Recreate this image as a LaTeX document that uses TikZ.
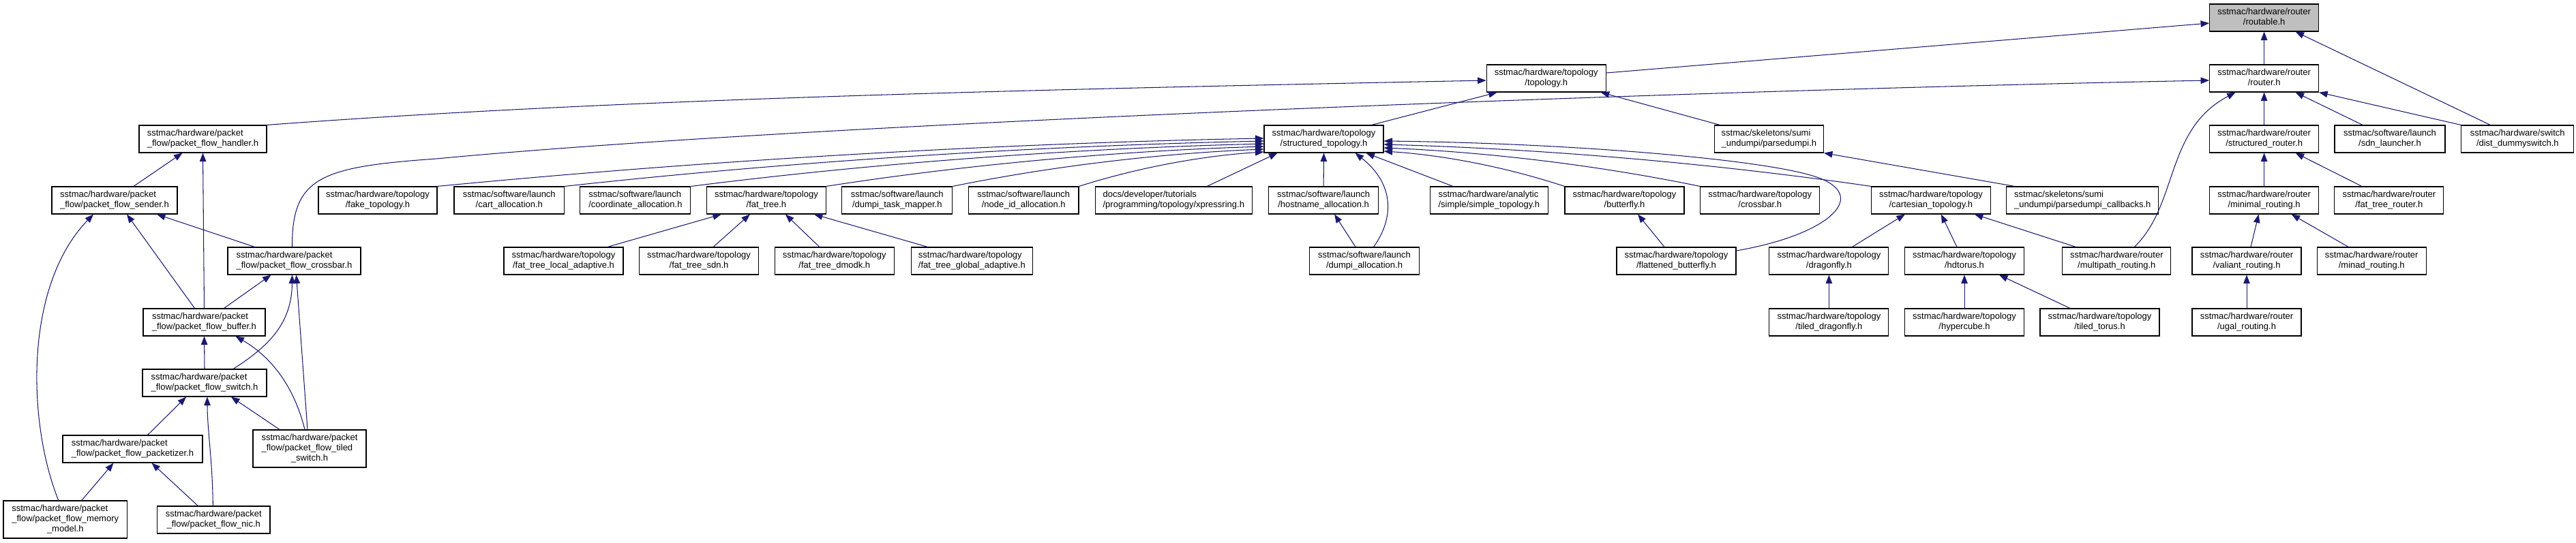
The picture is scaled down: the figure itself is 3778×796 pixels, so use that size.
\documentclass[tikz,border=0pt]{standalone}
\usepackage{fontspec}
\setmainfont{Liberation Sans}
\usetikzlibrary{arrows.meta}
\definecolor{edgecol}{HTML}{191970}
\definecolor{rootfill}{HTML}{BFBFBF}
\newcommand{\lblA}[2]{\begin{tabular}{@{}l@{}}#1\\\multicolumn{1}{@{}c@{}}{#2}\end{tabular}}
\newcommand{\lblB}[3]{\begin{tabular}{@{}l@{}}#1\\#2\\\multicolumn{1}{@{}c@{}}{#3}\end{tabular}}
\newcommand{\HT}{sstmac/hardware/topology}
\newcommand{\HR}{sstmac/hardware/router}
\newcommand{\HP}{sstmac/hardware/packet}
\newcommand{\SL}{sstmac/software/launch}
\begin{document}
\begin{tikzpicture}[x=1pt,y=-1pt,
  box/.style={draw=black, line width=1.1pt, fill=white, inner sep=0pt,
    minimum height=40pt, font=\fontsize{13pt}{15pt}\selectfont},
  dep/.style={draw=edgecol, line width=1.05pt, -{Triangle[length=12.5pt,width=9.5pt]}}]
\useasboundingbox (0,0) rectangle (3778,796);
% row 1
\node[box, fill=rootfill, minimum width=160pt] (routable) at (3320.6,26) {\lblA{\HR}{/routable.h}};
% row 2
\node[box, minimum width=175pt] (topology) at (2267.7,115) {\lblA{\HT}{/topology.h}};
\node[box, minimum width=160pt] (router) at (3320.6,115) {\lblA{\HR}{/router.h}};
% row 3
\node[box, minimum width=187pt] (handler) at (297.5,204) {\lblA{\HP}{\_flow/packet\_flow\_handler.h}};
\node[box, minimum width=175pt] (st) at (1941.5,204) {\lblA{\HT}{/structured\_topology.h}};
\node[box, minimum width=160pt] (parsedumpi) at (2594.4,204) {\lblA{sstmac/skeletons/sumi}{\_undumpi/parsedumpi.h}};
\node[box, minimum width=160pt] (sr) at (3320.6,204) {\lblA{\HR}{/structured\_router.h}};
\node[box, minimum width=162pt] (sdn) at (3505,204) {\lblA{\SL}{/sdn\_launcher.h}};
\node[box, minimum width=165pt] (dist) at (3692.3,204) {\lblA{sstmac/hardware/switch}{/dist\_dummyswitch.h}};
% row 4
\node[box, minimum width=184pt] (sender) at (168,294) {\lblA{\HP}{\_flow/packet\_flow\_sender.h}};
\node[box, minimum width=174pt] (fake) at (554,294) {\lblA{\HT}{/fake\_topology.h}};
\node[box, minimum width=161.6pt] (cart) at (746.8,294) {\lblA{\SL}{/cart\_allocation.h}};
\node[box, minimum width=162pt] (coord) at (931.9,294) {\lblA{\SL}{/coordinate\_allocation.h}};
\node[box, minimum width=174.7pt] (fattree) at (1123.9,294) {\lblA{\HT}{/fat\_tree.h}};
\node[box, minimum width=161.8pt] (dtm) at (1315.8,294) {\lblA{\SL}{/dumpi\_task\_mapper.h}};
\node[box, minimum width=161.6pt] (nodeid) at (1501.2,294) {\lblA{\SL}{/node\_id\_allocation.h}};
\node[box, minimum width=229.5pt] (xpress) at (1721.3,294) {\lblA{docs/developer/tutorials}{/programming/topology/xpressring.h}};
\node[box, minimum width=161.4pt] (hostname) at (1941.1,294) {\lblA{\SL}{/hostname\_allocation.h}};
\node[box, minimum width=173pt] (simple) at (2183.9,294) {\lblA{sstmac/hardware/analytic}{/simple/simple\_topology.h}};
\node[box, minimum width=175pt] (butterfly) at (2382.5,294) {\lblA{\HT}{/butterfly.h}};
\node[box, minimum width=175pt] (xbar) at (2581.2,294) {\lblA{\HT}{/crossbar.h}};
\node[box, minimum width=174.7pt] (carttopo) at (2831.9,294) {\lblA{\HT}{/cartesian\_topology.h}};
\node[box, minimum width=222.8pt] (pdcb) at (3054.3,294) {\lblA{sstmac/skeletons/sumi}{\_undumpi/parsedumpi\_callbacks.h}};
\node[box, minimum width=160pt] (minimal) at (3320.6,294) {\lblA{\HR}{/minimal\_routing.h}};
\node[box, minimum width=160pt] (ftr) at (3503.9,294) {\lblA{\HR}{/fat\_tree\_router.h}};
% row 5
\node[box, minimum width=195pt] (pfxbar) at (431.5,383) {\lblA{\HP}{\_flow/packet\_flow\_crossbar.h}};
\node[box, minimum width=175pt] (fla) at (826.5,383) {\lblA{\HT}{/fat\_tree\_local\_adaptive.h}};
\node[box, minimum width=175pt] (fsdn) at (1025.1,383) {\lblA{\HT}{/fat\_tree\_sdn.h}};
\node[box, minimum width=175pt] (fdmodk) at (1223.8,383) {\lblA{\HT}{/fat\_tree\_dmodk.h}};
\node[box, minimum width=178.7pt] (fga) at (1425.4,383) {\lblA{\HT}{/fat\_tree\_global\_adaptive.h}};
\node[box, minimum width=161.6pt] (dalloc) at (2001,383) {\lblA{\SL}{/dumpi\_allocation.h}};
\node[box, minimum width=175pt] (flat) at (2458.5,383) {\lblA{\HT}{/flattened\_butterfly.h}};
\node[box, minimum width=175pt] (dragonfly) at (2682.4,383) {\lblA{\HT}{/dragonfly.h}};
\node[box, minimum width=175pt] (hdtorus) at (2881,383) {\lblA{\HT}{/hdtorus.h}};
\node[box, minimum width=159pt] (multipath) at (3104.3,383) {\lblA{\HR}{/multipath\_routing.h}};
\node[box, minimum width=160pt] (valiant) at (3295,383) {\lblA{\HR}{/valiant\_routing.h}};
\node[box, minimum width=160pt] (minad) at (3478.2,383) {\lblA{\HR}{/minad\_routing.h}};
% row 6
\node[box, minimum width=179pt] (buffer) at (299.5,473) {\lblA{\HP}{\_flow/packet\_flow\_buffer.h}};
\node[box, minimum width=175pt] (tdf) at (2682.4,473) {\lblA{\HT}{/tiled\_dragonfly.h}};
\node[box, minimum width=175pt] (hypercube) at (2881,473) {\lblA{\HT}{/hypercube.h}};
\node[box, minimum width=175pt] (ttorus) at (3079.5,473) {\lblA{\HT}{/tiled\_torus.h}};
\node[box, minimum width=160pt] (ugal) at (3295,473) {\lblA{\HR}{/ugal\_routing.h}};
% packet flow lower part
\node[box, minimum width=182pt] (switch) at (300,562) {\lblA{\HP}{\_flow/packet\_flow\_switch.h}};
\node[box, minimum width=205pt] (packetizer) at (194.5,659) {\lblA{\HP}{\_flow/packet\_flow\_packetizer.h}};
\node[box, minimum width=166pt, minimum height=55pt] (tswitch) at (454,658.5) {\lblB{\HP}{\_flow/packet\_flow\_tiled}{\_switch.h}};
\node[box, minimum width=181.5pt, minimum height=55pt] (memory) at (95.75,762.5) {\lblB{\HP}{\_flow/packet\_flow\_memory}{\_model.h}};
\node[box, minimum width=165.4pt] (nic) at (313.3,763) {\lblA{\HP}{\_flow/packet\_flow\_nic.h}};
\coordinate (xbk) at (640,233);
\coordinate (flk) at (2670,262);
% router side
\draw[dep] ([yshift=8]topology.east) -- ([yshift=-8]routable.west);
\draw[dep] (router.north) -- (routable.south);
\draw[dep] ([xshift=-40]dist.north) -- ([xshift=46]routable.south);
\draw[dep] (handler.north east) .. controls (891,146) and (1480,132) .. ([yshift=-3]topology.west);
\draw[dep] ([xshift=70]st.north) -- ([xshift=-72]topology.south);
\draw[dep] ([xshift=-72]parsedumpi.north) -- ([xshift=80]topology.south);
\draw[dep] (sr.north) -- (router.south);
\draw[dep] ([xshift=-40]sdn.north) -- ([xshift=46]router.south);
\draw[dep] (dist.north west) -- (router.south east);
\draw[dep] ([xshift=26]multipath.north) .. controls (3195,300) and (3175,190) .. ([xshift=-42]router.south);
\draw[dep] (minimal.north) -- (sr.south);
\draw[dep] ([xshift=-40]ftr.north) -- ([xshift=46]sr.south);
\draw[dep] ([xshift=6]valiant.north) -- ([xshift=-8]minimal.south);
\draw[dep] ([xshift=-34]minad.north) -- ([xshift=40]minimal.south);
\draw[dep] (ugal.north) -- (valiant.south);
% packet flow
\draw[dep] ([xshift=28]sender.north) -- ([xshift=-30]handler.south);
\draw[dep] (buffer.north) -- (handler.south);
\draw[dep] ([xshift=-10]memory.north) .. controls (40,620) and (35,420) .. ([xshift=-31]sender.south);
\draw[dep] ([xshift=-14]buffer.north) -- ([xshift=18]sender.south);
\draw[dep] ([xshift=-58]pfxbar.north) -- ([xshift=62]sender.south);
\draw[dep] ([xshift=29]buffer.north) -- ([xshift=-34]pfxbar.south);
\draw[dep] ([xshift=42]switch.north) .. controls (400,505) and (428,470) .. ([xshift=-3]pfxbar.south);
\draw[dep] ([xshift=-3]tswitch.north) -- ([xshift=3]pfxbar.south);
\draw[dep] (switch.north) -- (buffer.south);
\draw[dep] ([xshift=-7]tswitch.north) .. controls (432,570) and (400,525) .. ([xshift=46]buffer.south);
\draw[dep] ([xshift=22]packetizer.north) -- ([xshift=-27]switch.south);
\draw[dep] ([xshift=-1]nic.north) .. controls (312,680) and (304,630) .. ([xshift=4]switch.south);
\draw[dep] ([xshift=-44]tswitch.north) -- ([xshift=39]switch.south);
\draw[dep] ([xshift=24]memory.north) -- ([xshift=-28]packetizer.south);
\draw[dep] ([xshift=-23]nic.north) -- ([xshift=28]packetizer.south);
\draw[dep] ([xshift=-3]pfxbar.north) .. controls (428,260) and (470,245) .. (xbk)
  .. controls (1200,180) and (2500,132) .. ([yshift=-3]router.west);
% structured topology
\draw[dep] (fake.north east) .. controls (1066,232.6) and (1490,210) .. ([yshift=1]st.west);
\draw[dep] (cart.north east) .. controls (1187,234) and (1546,213.7) .. ([yshift=-3]st.west);
\draw[dep] (coord.north east) .. controls (1307,236.2) and (1602,217.3) .. ([yshift=-7]st.west);
\draw[dep] (fattree.north east) .. controls (1436,238.6) and (1661,220.9) .. ([yshift=-11]st.west);
\draw[dep] (dtm.north east) .. controls (1557,241) and (1717,224.5) .. ([yshift=-15]st.west);
\draw[dep] (nodeid.north east) .. controls (1677,243.4) and (1772,228.1) .. ([yshift=-19]st.west);
\draw[dep] ([xshift=49]xpress.north) -- ([xshift=-68]st.south);
\draw[dep] (hostname.north) -- (st.south);
\draw[dep] ([xshift=13.5]dalloc.north) .. controls (2045,320) and (2045,270) .. ([xshift=46]st.south);
\draw[dep] ([xshift=-53]simple.north) -- ([xshift=62]st.south);
\draw[dep] (butterfly.north west) .. controls (2202,243) and (2109,227) .. ([yshift=-18]st.east);
\draw[dep] (xbar.north west) .. controls (2331,240) and (2168,222.7) .. ([yshift=-13]st.east);
\draw[dep] (carttopo.north west) .. controls (2494,237) and (2244,218) .. ([yshift=-8]st.east);
\draw[dep] ([yshift=15]flat.east) .. controls (2680,345) and (2740,290) .. (flk)
  .. controls (2600,234) and (2300,210) .. ([yshift=-3]st.east);
% fat tree
\draw[dep] ([xshift=64.5]fla.north) -- ([xshift=-66]fattree.south);
\draw[dep] ([xshift=21]fsdn.north) -- ([xshift=-24]fattree.south);
\draw[dep] ([xshift=-22]fdmodk.north) -- ([xshift=28]fattree.south);
\draw[dep] ([xshift=-65]fga.north) -- ([xshift=70]fattree.south);
% others
\draw[dep] ([xshift=-13]dalloc.north) -- ([xshift=16]hostname.south);
\draw[dep] ([xshift=-17.5]flat.north) -- ([xshift=19.5]butterfly.south);
\draw[dep] ([xshift=34]dragonfly.north) -- ([xshift=-38]carttopo.south);
\draw[dep] ([xshift=-11]hdtorus.north) -- ([xshift=15]carttopo.south);
\draw[dep] ([xshift=-60]multipath.north) -- ([xshift=64]carttopo.south);
\draw[dep] (tdf.north) -- (dragonfly.south);
\draw[dep] (hypercube.north) -- (hdtorus.south);
\draw[dep] ([xshift=-43.5]ttorus.north) -- ([xshift=51]hdtorus.south);
\draw[dep] ([xshift=-99.6]pdcb.north) -- (parsedumpi.south east);
\end{tikzpicture}
\end{document}
